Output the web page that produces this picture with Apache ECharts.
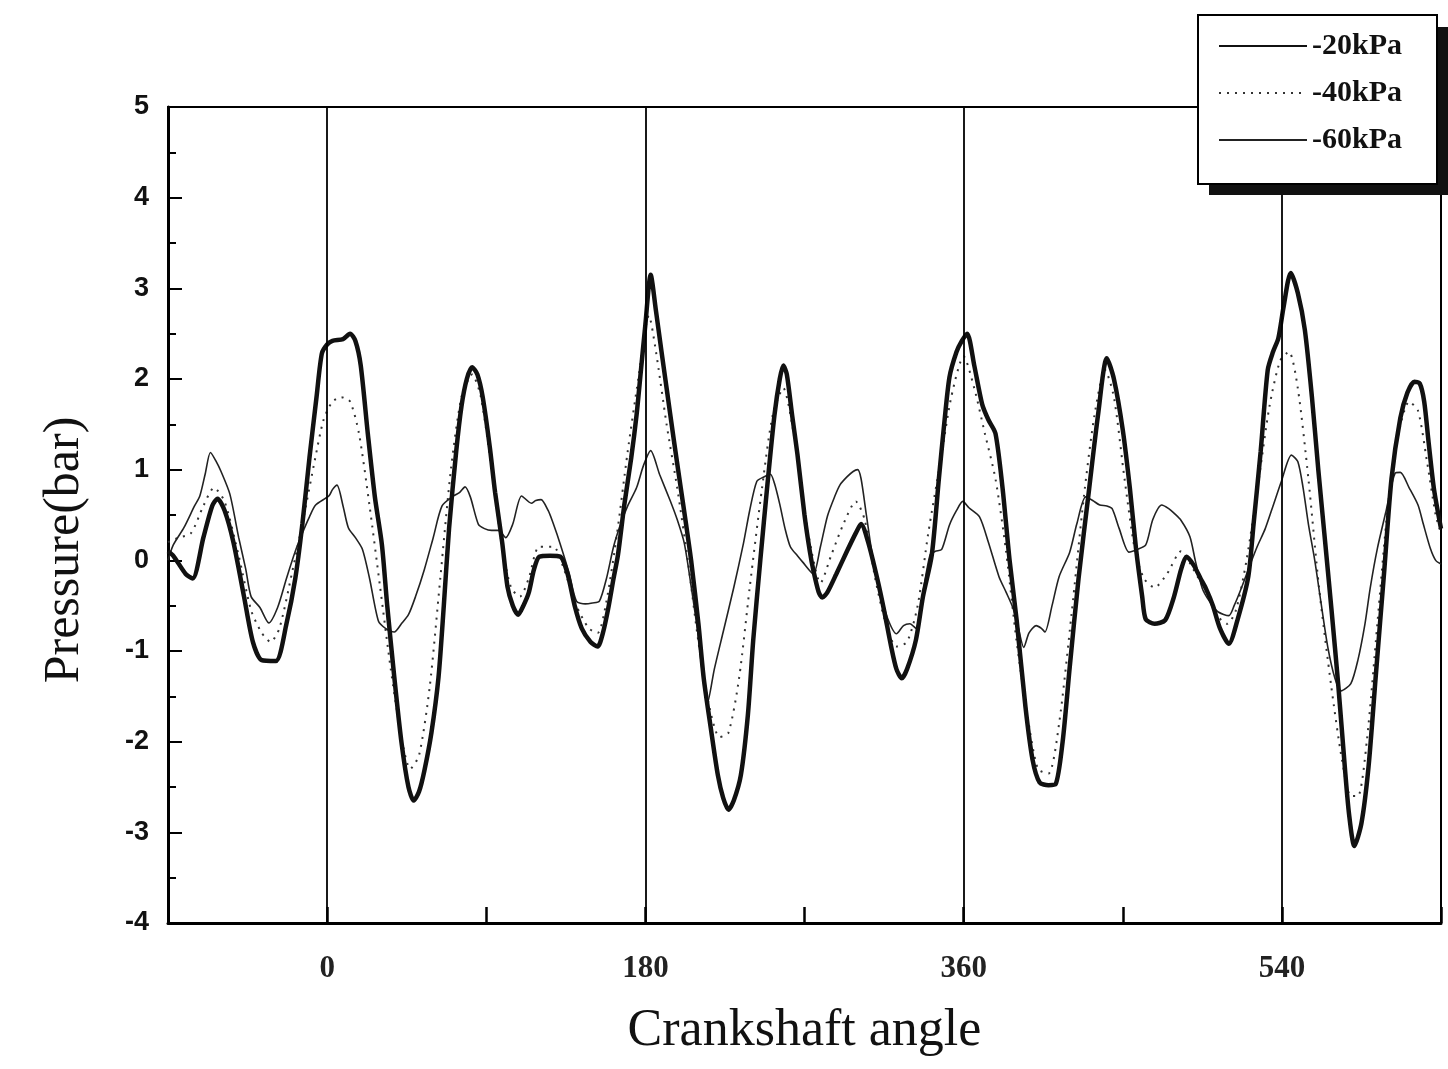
<!DOCTYPE html>
<html>
<head>
<meta charset="utf-8">
<script src="https://cdn.jsdelivr.net/npm/echarts@6/dist/echarts.min.js"></script>
<style>
html,body{margin:0;padding:0;background:#fff;}
#chart{width:1448px;height:1069px;}
</style>
</head>
<body>
<div id="chart"></div>
<script>
// ---- data (crankshaft angle in degrees, pressure in bar) ----
var seriesNames = ['-20kPa', '-40kPa', '-60kPa'];
var xTickLabels = [0, 180, 360, 540];
var verticalLines = [0, 180, 360, 540];

var angles20 = [-90,-87,-80,-76,-70,-65,-62,-58,-53,-47,-42,-37,-29,-23,-18,-14,-10,-6,-3,0,3,9,13,16,19,23,27,31,34,38,42,46,49,52,55,59,63,66,69,73,76,79,82,85,88,92,95,99,102,105,108,111,114,117,120,126,132,136,140,144,149,153,156,159,162,164.5,168,172,175,177.5,180,183,186,189,192,196,200,203,206,210,213,217,221,224,227,230,234,238,241,245,249,253,256,258,260,263,266,270,273,275,278,280,283,288,294,299,302,306,311,315,319,322,325,328,333,337,342,346,349,352,356,359,362,366,370.5,374,378,382,386,390,395,399,403,408,412,416,420,425,431,436,441,445,450,454,457.5,461,463,468,474,479,483,486,490,494,497,501,505,510,515,521,524,528,532,535,538,541,545,549,553,557,560.6,564,568,572,575.6,578,581,585,589,593,598,602,607,611,615,618,620.5,623,626,630];
var p20 = [0.1,0.05,-0.15,-0.2,0.25,0.6,0.68,0.55,0.2,-0.4,-0.9,-1.1,-1.11,-0.7,-0.2,0.4,1.13,1.8,2.28,2.38,2.42,2.44,2.5,2.42,2.15,1.4,0.7,0.17,-0.5,-1.29,-2.0,-2.5,-2.65,-2.55,-2.32,-1.9,-1.29,-0.5,0.36,1.2,1.7,2.0,2.13,2.05,1.8,1.25,0.75,0.2,-0.29,-0.5,-0.6,-0.5,-0.36,-0.1,0.04,0.05,0.04,-0.15,-0.5,-0.75,-0.9,-0.95,-0.8,-0.53,-0.2,0.06,0.6,1.13,1.6,2.1,2.6,3.15,2.75,2.32,1.9,1.34,0.8,0.4,-0.02,-0.7,-1.3,-1.85,-2.37,-2.62,-2.75,-2.65,-2.37,-1.7,-0.88,0.0,0.83,1.6,2.0,2.15,2.05,1.6,1.17,0.5,0.1,-0.11,-0.35,-0.41,-0.35,-0.15,0.1,0.3,0.4,0.2,-0.19,-0.55,-0.95,-1.2,-1.3,-1.2,-0.88,-0.4,0.06,0.9,1.5,2.02,2.3,2.42,2.5,2.15,1.72,1.55,1.4,0.8,0.0,-0.66,-1.62,-2.2,-2.45,-2.48,-2.47,-2.0,-1.18,-0.2,0.79,1.6,2.23,2.0,1.44,0.8,0.13,-0.4,-0.65,-0.7,-0.66,-0.4,-0.1,0.04,-0.05,-0.2,-0.31,-0.5,-0.75,-0.92,-0.65,-0.18,0.4,1.2,2.1,2.3,2.45,2.8,3.17,2.95,2.54,1.8,1.0,0.3,-0.53,-1.4,-2.28,-2.8,-3.15,-2.9,-2.28,-1.3,-0.09,0.9,1.57,1.85,1.97,1.95,1.75,1.3,0.79,0.35];

var angles40 = [-90,-84,-77,-70,-64,-58,-50,-43,-37,-32,-27,-20,-13,-7,-2,3,8,13,18,24,30,36,42,47,52,58,64,70,76,82,87,93,99,104,109,114,120,128,134,141,148,153,158,164,170,176,182,186,192,198,204,210,216,222,227,233,239,246,252,258,263,268,274,279,285,292,299,304,310,316,322,328,334,340,347,353,360,366,372,378,384,390,396,402,408,414,421,428,434,440,445,451,457,462,468,475,483,490,497,503,509,514,520,527,533,539,544,549,555,561,568,574,579,583,588,594,600,606,612,617,622,627,630];
var p40 = [0.2,0.25,0.3,0.6,0.8,0.65,0.05,-0.55,-0.8,-0.9,-0.75,-0.15,0.5,1.1,1.55,1.75,1.8,1.75,1.4,0.6,-0.3,-1.2,-1.95,-2.3,-2.15,-1.4,-0.2,1.0,1.8,2.05,1.8,1.0,0.15,-0.3,-0.4,-0.2,0.15,0.15,-0.1,-0.5,-0.75,-0.8,-0.45,0.3,1.2,2.0,2.7,2.3,1.5,0.8,0.0,-0.9,-1.6,-1.95,-1.9,-1.3,-0.3,0.8,1.6,1.9,1.5,0.8,0.1,-0.25,0.05,0.4,0.65,0.45,-0.2,-0.7,-0.95,-0.9,-0.5,0.3,1.1,1.8,2.25,1.9,1.4,0.9,0.1,-0.9,-1.7,-2.3,-2.35,-1.8,-0.6,0.7,1.6,2.1,1.8,0.9,0.1,-0.2,-0.3,-0.15,0.1,-0.1,-0.35,-0.6,-0.7,-0.55,0.0,0.9,1.7,2.2,2.3,1.9,0.9,-0.3,-1.4,-2.2,-2.6,-2.6,-2.0,-0.7,0.6,1.4,1.75,1.65,1.1,0.5,0.3];

var angles60 = [-90,-87,-81,-75,-72,-69,-66,-63,-60,-55,-50,-46,-43,-38,-33,-28,-23,-18,-14,-10,-6.5,1,3,5.6,9,12,16,20,24,29,33,38,42,46,50,55,60,65,71.5,75,78,81,85.5,89,93,97,101,105,110,115.5,118,121,125,128,132,137,141,146,150,154,158,162,166,170,175,179,183,188,194,198,202,206,209.6,212,215,219,224,230,235.5,239,243,247,250.7,253,256,259,262,266,269,275,279,283,287,290,294,297.5,300,302,305,309,313,316.6,322,326,329.6,333,337,341,344,347.6,352,356,359.5,363,369,374,380,384,388,391,394,397,401,404,406,410,414,420,424,429,433,437,441,444,448,453.5,458,463,467,472,476,479,483,488,491,495,499,504,510,513,517,522,526,530.6,535,539.7,545.4,549,552,555,558.6,562,566,570,573.5,579,583,587,590,594,599,604,607,612,617,620,624,627,630];
var p60 = [0.0,0.17,0.36,0.6,0.71,0.95,1.19,1.1,0.98,0.73,0.25,-0.1,-0.4,-0.52,-0.69,-0.52,-0.2,0.1,0.3,0.48,0.61,0.71,0.78,0.83,0.6,0.36,0.25,0.12,-0.2,-0.67,-0.75,-0.79,-0.7,-0.6,-0.4,-0.1,0.25,0.6,0.71,0.75,0.81,0.7,0.4,0.35,0.33,0.33,0.25,0.4,0.71,0.63,0.66,0.67,0.55,0.4,0.17,-0.15,-0.45,-0.48,-0.47,-0.45,-0.2,0.15,0.4,0.6,0.8,1.05,1.21,0.95,0.66,0.45,0.19,-0.3,-0.79,-1.2,-1.58,-1.2,-0.79,-0.3,0.19,0.55,0.87,0.92,0.95,0.85,0.62,0.35,0.15,0.05,-0.02,-0.15,0.15,0.49,0.7,0.83,0.92,0.98,1.0,0.9,0.5,-0.02,-0.35,-0.62,-0.81,-0.72,-0.7,-0.75,-0.35,0.06,0.1,0.12,0.39,0.55,0.65,0.58,0.48,0.2,-0.18,-0.35,-0.53,-0.75,-0.96,-0.8,-0.72,-0.75,-0.79,-0.5,-0.18,0.09,0.4,0.7,0.66,0.61,0.6,0.57,0.35,0.09,0.12,0.17,0.45,0.61,0.57,0.52,0.44,0.26,0.0,-0.31,-0.45,-0.57,-0.61,-0.5,-0.31,-0.05,0.15,0.35,0.6,0.87,1.16,1.09,0.8,0.4,0.0,-0.45,-0.96,-1.3,-1.44,-1.36,-1.1,-0.7,-0.3,0.13,0.55,0.96,0.97,0.8,0.61,0.4,0.13,0.0,-0.04];

function pairs(xs, ys){ return xs.map(function(x,i){ return [x, ys[i]]; }); }

var serif = '"Liberation Serif","Times New Roman",serif';
var sans = '"Liberation Sans",Arial,sans-serif';
var chart = echarts.init(document.getElementById('chart'), null, {renderer:'canvas'});

var option = {
  backgroundColor: '#ffffff',
  animation: false,
  grid: {left: 168, right: 7, top: 107, bottom: 146, show: true, borderColor: '#000', borderWidth: 2, backgroundColor: 'transparent'},
  graphic: [
    { // legend drop shadow
      type: 'rect', zlevel: 1, z: 1, silent: true,
      shape: {x: 1209, y: 27, width: 239, height: 168},
      style: {fill: '#111'}
    }
  ],
  legend: {
    zlevel: 1, z: 10,
    orient: 'vertical',
    left: 1198, top: 15,
    backgroundColor: '#fff',
    borderColor: '#000',
    borderWidth: 2,
    padding: [16, 35, 29, 20],
    itemWidth: 88,
    itemHeight: 12,
    itemGap: 17,
    itemStyle: {opacity: 0},
    textStyle: {fontFamily: serif, fontWeight: 'bold', fontSize: 30, color: '#111'},
    data: seriesNames
  },
  xAxis: {
    type: 'value', min: -90, max: 630, interval: 90,
    name: 'Crankshaft angle', nameLocation: 'middle', nameGap: 82,
    nameTextStyle: {fontFamily: serif, fontSize: 52, color: '#111'},
    axisLine: {show: true, onZero: false, lineStyle: {color: '#000', width: 3}},
    axisTick: {show: true, inside: true, length: 16, lineStyle: {color: '#000', width: 2.5}},
    axisLabel: {
      margin: 30, fontFamily: serif, fontWeight: 'bold', fontSize: 31, color: '#222',
      formatter: function(v){ return xTickLabels.indexOf(v) >= 0 ? String(v) : ''; }
    },
    splitLine: {show: false}
  },
  yAxis: {
    type: 'value', min: -4, max: 5, interval: 1,
    name: 'Pressure(bar)', nameLocation: 'middle', nameGap: 78, nameRotate: 90,
    nameTextStyle: {fontFamily: serif, fontSize: 50, color: '#111', padding: [0, 70, 0, 0]},
    axisLine: {show: true, onZero: false, lineStyle: {color: '#000', width: 3}},
    axisTick: {show: true, inside: true, length: 14, lineStyle: {color: '#000', width: 2}},
    minorTick: {show: true, splitNumber: 2, length: 8, lineStyle: {color: '#000', width: 2}},
    axisLabel: {margin: 19, fontFamily: sans, fontWeight: 'bold', fontSize: 27, color: '#111'},
    splitLine: {show: false}
  },
  series: [
    {
      name: seriesNames[0], type: 'line', data: pairs(angles20, p20),
      showSymbol: false, symbol: 'none', smooth: 0.25,
      lineStyle: {color: '#111', width: 4.5},
      itemStyle: {color: '#111'},
      markLine: {
        silent: true, symbol: 'none', label: {show: false},
        lineStyle: {color: '#000', width: 1.8, type: 'solid'},
        data: verticalLines.map(function(v){ return {xAxis: v}; })
      },
      z: 3
    },
    {
      name: seriesNames[1], type: 'line', data: pairs(angles40, p40),
      showSymbol: false, symbol: 'none', smooth: 0.25,
      lineStyle: {color: '#333', width: 2, type: [2, 6]},
      itemStyle: {color: '#333'},
      z: 2
    },
    {
      name: seriesNames[2], type: 'line', data: pairs(angles60, p60),
      showSymbol: false, symbol: 'none', smooth: 0.25,
      lineStyle: {color: '#222', width: 1.6},
      itemStyle: {color: '#222'},
      z: 2
    }
  ]
};
chart.setOption(option);
</script>
</body>
</html>
